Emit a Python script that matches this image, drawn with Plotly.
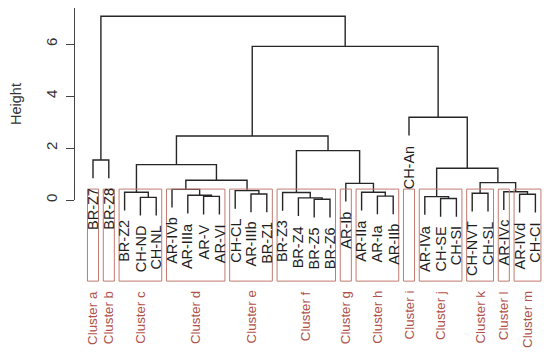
import plotly.graph_objects as go

# ---- data ----
leaf_labels = ["BR-Z7", "BR-Z8", "BR-Z2", "CH-ND", "CH-NL", "AR-IVb", "AR-IIIa", "AR-V",
               "AR-VI", "CH-CL", "AR-IIIb", "BR-Z1", "BR-Z3", "BR-Z4", "BR-Z5", "BR-Z6",
               "AR-Ib", "AR-IIa", "AR-Ia", "AR-IIb", "CH-An", "AR-IVa", "CH-SE", "CH-SI",
               "CH-NVT", "CH-SL", "AR-IVc", "AR-IVd", "CH-CI"]

# R-style merge table: negative = leaf (1-based position), positive = earlier merge
merge_left = [-15, -14, -23, -4, -8, -22, -19, -7, -11, -28, -25, -13, -3, -18,
              -27, -10, -6, -17, 11, 17, 6, 13, -1, 12, -21, 22, 26, 23]
merge_right = [-16, 1, -24, -5, -9, 3, -20, 5, -12, -29, -26, 2, 4, 7,
               10, 9, 8, 14, 15, 16, 19, 20, -2, 18, 21, 24, 25, 27]
merge_height = [0.03, 0.08, 0.06, 0.10, 0.14, 0.13, 0.15, 0.18, 0.23, 0.22, 0.26, 0.29,
                0.30, 0.30, 0.32, 0.36, 0.41, 0.64, 0.67, 0.76, 1.22, 1.36, 1.54, 1.90,
                3.18, 2.46, 5.91, 7.07]

cluster_names = ["Cluster a", "Cluster b", "Cluster c", "Cluster d", "Cluster e",
                 "Cluster f", "Cluster g", "Cluster h", "Cluster i", "Cluster j",
                 "Cluster k", "Cluster l", "Cluster m"]
cluster_sizes = [1, 1, 3, 4, 3, 4, 1, 3, 1, 3, 2, 1, 2]

y_ticks = [0, 2, 4, 6]
hang = 0.7

# ---- styles ----
LINE = "#262626"
BOX = "#c27a70"
CLUSTER_TXT = "#b0524a"
FONT = "Liberation Sans, Arial, sans-serif"

# ---- build dendrogram segments ----
node_x, node_h = {}, {}
leaf_end = {}
xs, ys = [], []
for k, (a, b, h) in enumerate(zip(merge_left, merge_right, merge_height), start=1):
    pts = []
    for c in (a, b):
        if c < 0:
            pts.append((-c, h - hang))
            leaf_end[-c] = h - hang
        else:
            pts.append((node_x[c], node_h[c]))
    (xa, ya), (xb, yb) = pts
    xs += [xa, xa, xb, xb, None]
    ys += [ya, h, h, yb, None]
    node_x[k] = (xa + xb) / 2
    node_h[k] = h

fig = go.Figure()
fig.add_trace(go.Scatter(x=xs, y=ys, mode="lines", line=dict(color=LINE, width=1.4),
                         hoverinfo="skip", showlegend=False, xaxis="x", yaxis="y"))
# empty trace carrying the visible height axis
fig.add_trace(go.Scatter(x=[None], y=[None], mode="markers", showlegend=False,
                         hoverinfo="skip", xaxis="x2", yaxis="y2"))

annotations = []
for i, lab in enumerate(leaf_labels, start=1):
    annotations.append(dict(x=i, y=leaf_end[i] - 0.3, xref="x", yref="y", text=lab,
                            showarrow=False, textangle=-90, xanchor="center",
                            yanchor="top", font=dict(family=FONT, size=14.5, color="#1e1e1e")))

shapes = []
start = 1
for name, size in zip(cluster_names, cluster_sizes):
    first, last = start, start + size - 1
    shapes.append(dict(type="rect", xref="x", yref="y", x0=first - 0.35, x1=last + 0.35,
                       y0=-3.12, y1=0.42, line=dict(color=BOX, width=1)))
    annotations.append(dict(x=(first + last) / 2, y=-3.42, xref="x", yref="y", text=name,
                            showarrow=False, textangle=-90, xanchor="center", yanchor="top",
                            font=dict(family=FONT, size=13.3, color=CLUSTER_TXT)))
    start = last + 1

# page body has an 8px offset, so positions are shifted by -8px
W, H = 550, 354
OFF = 8
L = 75 - OFF
px_per_unit_x = 15.8
px_per_unit_y = 26.0
y0_px = 200 - OFF
x0 = 1 - (93 - 75) / px_per_unit_x
x1 = x0 + (W - L) / px_per_unit_x
ymax = y0_px / px_per_unit_y
ymin = -(H - y0_px) / px_per_unit_y

fig.update_layout(
    width=W, height=H,
    margin=dict(l=L, r=0, t=0, b=0, autoexpand=False),
    paper_bgcolor="white", plot_bgcolor="rgba(0,0,0,0)",
    shapes=shapes, annotations=annotations,
    xaxis=dict(domain=[0, 1], range=[x0, x1], visible=False, automargin=False),
    yaxis=dict(domain=[0, 1], range=[ymin, ymax], visible=False, automargin=False),
    xaxis2=dict(domain=[0, 1], range=[x0, x1], anchor="y2", visible=False, automargin=False),
    yaxis2=dict(domain=[(H - y0_px) / H, 1], range=[0, ymax], anchor="x2",
                automargin=False,
                showline=True, linecolor="#444", linewidth=1.2,
                ticks="outside", ticklen=8, tickcolor="#444", tickwidth=1.2,
                tickvals=y_ticks, tickangle=-90, showgrid=False, zeroline=False,
                tickfont=dict(family=FONT, size=15, color="#333"),
                ticklabelstandoff=3,
                title=dict(text="Height", font=dict(family=FONT, size=14.5, color="#333"),
                           standoff=19)),
    showlegend=False,
)

fig.write_html("out.html")
